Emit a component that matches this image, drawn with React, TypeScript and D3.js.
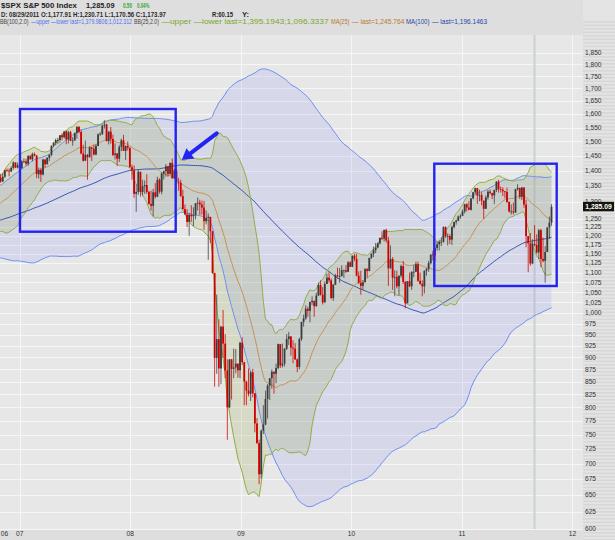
import React from "react";
import * as d3 from "d3";

// ---------- DATA (weekly S&P 500, week labelled by its Monday) ----------
const firstWeekMonday = [2004, 10, 29]; // 2004-11-29
// closes used only to warm up the 100-week indicators (Nov 2004 - Oct 2006)
const warmupCloses = [
  1191, 1189, 1194, 1210, 1212,
  1186, 1184, 1168, 1171, 1203, 1205, 1201, 1211, 1222, 1200, 1190, 1172, 1172,
  1182, 1143, 1152, 1157, 1172, 1154, 1190, 1198, 1197, 1201, 1217, 1191, 1211,
  1212, 1228, 1229, 1234, 1226, 1231, 1220, 1205, 1218, 1241, 1237, 1215, 1229,
  1196, 1187, 1180, 1199, 1220, 1234, 1249, 1268, 1265, 1260, 1267, 1268, 1248,
  1285, 1287, 1261, 1283, 1264, 1266, 1287, 1289, 1287, 1281, 1307, 1302, 1295,
  1295, 1289, 1311, 1311, 1326, 1291, 1267, 1280, 1288, 1253, 1252, 1244, 1270,
  1265, 1236, 1240, 1278, 1280, 1267, 1302, 1295, 1311, 1299, 1321, 1314, 1336,
  1350, 1366, 1369,
];
// plotted weeks: from week of 2006-10-23 to week of 2011-10-24
const close2006 = [1377, 1364, 1380, 1401, 1400, 1397, 1409, 1427, 1410, 1418];
const high2006 = [1382, 1389, 1392, 1403, 1407, 1407, 1415, 1431, 1428, 1427];
const low2006 = [1360, 1360, 1364, 1376, 1396, 1381, 1396, 1403, 1408, 1407];

const close2007 = [
  1409, 1431, 1431, 1423, 1449, 1438, 1456, 1451, 1388, 1402, 1387, 1437, 1421,
  1443, 1453, 1485, 1495, 1505, 1505, 1522, 1515, 1536, 1507, 1533, 1502, 1503,
  1530, 1552, 1534, 1458, 1433, 1453, 1445, 1479, 1474, 1454, 1484, 1525, 1527,
  1557, 1561, 1501, 1535, 1509, 1453, 1458, 1440, 1481, 1504, 1467, 1484, 1478, 1411,
];
const high2007 = [
  1429, 1435, 1441, 1440, 1452, 1453, 1461, 1461, 1452, 1410, 1409, 1439, 1438,
  1445, 1455, 1485, 1498, 1510, 1513, 1522, 1529, 1536, 1540, 1539, 1538, 1515,
  1532, 1556, 1556, 1541, 1488, 1503, 1456, 1482, 1480, 1488, 1489, 1529, 1533,
  1561, 1576, 1564, 1536, 1552, 1524, 1493, 1456, 1488, 1510, 1523, 1485, 1500, 1478,
];
const low2007 = [
  1403, 1405, 1425, 1416, 1416, 1436, 1431, 1447, 1375, 1374, 1363, 1384, 1410,
  1421, 1432, 1448, 1479, 1486, 1490, 1495, 1503, 1510, 1490, 1493, 1501, 1485,
  1503, 1510, 1529, 1455, 1430, 1436, 1370, 1444, 1432, 1451, 1452, 1483, 1520,
  1523, 1546, 1500, 1489, 1492, 1448, 1437, 1416, 1429, 1466, 1467, 1435, 1468, 1410,
];

const close2008 = [
  1401, 1325, 1331, 1396, 1331, 1349, 1353, 1331, 1294, 1288, 1330, 1316, 1370,
  1332, 1390, 1398, 1414, 1389, 1426, 1375, 1400, 1361, 1360, 1318, 1278, 1262,
  1240, 1261, 1257, 1260, 1296, 1298, 1292, 1283, 1242, 1252, 1255, 1213, 1099,
  899, 940, 877, 968, 930, 873, 800, 896, 876, 879, 887, 873, 932,
];
const high2008 = [
  1420, 1417, 1355, 1404, 1396, 1370, 1368, 1388, 1335, 1335, 1341, 1359, 1380,
  1375, 1395, 1399, 1422, 1416, 1426, 1440, 1406, 1404, 1376, 1370, 1338, 1292,
  1278, 1266, 1290, 1284, 1297, 1314, 1307, 1304, 1303, 1274, 1265, 1255, 1214,
  1098, 1044, 985, 970, 1007, 951, 896, 896, 897, 919, 918, 887, 934,
];
const low2008 = [
  1370, 1313, 1270, 1322, 1316, 1320, 1325, 1325, 1292, 1274, 1256, 1310, 1315,
  1326, 1324, 1371, 1380, 1380, 1386, 1373, 1373, 1358, 1335, 1316, 1277, 1262,
  1225, 1200, 1240, 1228, 1247, 1274, 1261, 1262, 1217, 1233, 1134, 1180, 1097,
  840, 866, 840, 845, 899, 857, 741, 799, 815, 857, 867, 858, 857,
];

const close2009 = [
  890, 850, 832, 826, 869, 827, 770, 735, 683, 757, 768, 816, 842,
  857, 870, 866, 878, 929, 883, 887, 919, 940, 946, 921, 919, 896,
  880, 940, 979, 987, 1010, 1005, 1026, 1029, 1016, 1042, 1068, 1044, 1025,
  1071, 1087, 1080, 1036, 1069, 1093, 1091, 1091, 1106, 1106, 1102, 1127, 1115,
];
const high2009 = [
  944, 891, 852, 877, 871, 876, 827, 780, 741, 759, 804, 832, 845,
  857, 875, 871, 887, 930, 922, 930, 920, 951, 956, 945, 937, 931,
  898, 943, 979, 996, 1018, 1015, 1027, 1040, 1028, 1049, 1074, 1080, 1063,
  1077, 1097, 1101, 1085, 1071, 1097, 1113, 1112, 1119, 1108, 1120, 1130, 1130,
];
const low2009 = [
  884, 804, 804, 821, 812, 819, 754, 734, 667, 676, 751, 767, 779,
  814, 836, 826, 847, 875, 878, 879, 881, 916, 927, 904, 888, 895,
  869, 875, 936, 968, 984, 991, 978, 1019, 991, 1015, 1041, 1042, 1020,
  1026, 1072, 1074, 1033, 1029, 1068, 1085, 1074, 1090, 1086, 1099, 1102, 1115,
];

const close2010 = [
  1145, 1136, 1092, 1074, 1066, 1075, 1109, 1104, 1139, 1150, 1160, 1167, 1179,
  1194, 1192, 1217, 1187, 1111, 1136, 1087, 1089, 1065, 1092, 1117, 1076, 1023,
  1078, 1065, 1102, 1102, 1122, 1079, 1071, 1065, 1105, 1110, 1125, 1148, 1146,
  1166, 1176, 1183, 1183, 1225, 1199, 1199, 1189, 1225, 1240, 1244, 1256, 1258,
];
const high2010 = [
  1145, 1150, 1150, 1103, 1105, 1080, 1112, 1112, 1139, 1151, 1170, 1180, 1181,
  1195, 1213, 1217, 1220, 1197, 1173, 1141, 1106, 1105, 1092, 1121, 1131, 1078,
  1078, 1100, 1103, 1120, 1129, 1129, 1100, 1080, 1105, 1111, 1131, 1148, 1158,
  1167, 1184, 1189, 1196, 1227, 1227, 1207, 1205, 1229, 1240, 1247, 1259, 1263,
];
const low2010 = [
  1117, 1130, 1090, 1071, 1044, 1056, 1076, 1087, 1105, 1136, 1141, 1152, 1165,
  1175, 1188, 1184, 1181, 1066, 1131, 1056, 1040, 1060, 1043, 1087, 1071, 1011,
  1028, 1063, 1056, 1088, 1105, 1076, 1069, 1040, 1047, 1092, 1102, 1122, 1132,
  1131, 1159, 1159, 1171, 1181, 1194, 1173, 1177, 1174, 1221, 1232, 1242, 1249,
];

const close2011 = [
  1271, 1293, 1283, 1276, 1311, 1330, 1343, 1320, 1321, 1304, 1279, 1314, 1332,
  1328, 1320, 1337, 1364, 1340, 1338, 1333, 1331, 1300, 1271, 1271, 1268, 1340,
  1344, 1316, 1345, 1292, 1199, 1179, 1124, 1177, 1173.97, 1154, 1216, 1136, 1131,
  1155, 1224, 1238, 1285.09,
];
const high2011 = [
  1277, 1294, 1296, 1302, 1311, 1331, 1344, 1342, 1338, 1330, 1302, 1320, 1337,
  1339, 1328, 1338, 1365, 1370, 1348, 1346, 1334, 1345, 1301, 1292, 1298, 1341,
  1356, 1344, 1347, 1346, 1307, 1199, 1208, 1190, 1230.71, 1204, 1220, 1220, 1195,
  1171, 1224, 1256, 1293,
];
const low2011 = [
  1257, 1265, 1271, 1275, 1274, 1308, 1324, 1294, 1302, 1290, 1249, 1279, 1307,
  1323, 1309, 1294, 1331, 1329, 1329, 1318, 1311, 1297, 1268, 1262, 1262, 1267,
  1335, 1309, 1306, 1282, 1168, 1101, 1118, 1122, 1170.56, 1150, 1136, 1114, 1127,
  1074, 1155, 1191, 1229,
];

const weekClose = [...close2006, ...close2007, ...close2008, ...close2009, ...close2010, ...close2011];
const weekHigh = [...high2006, ...high2007, ...high2008, ...high2009, ...high2010, ...high2011];
const weekLow = [...low2006, ...low2007, ...low2008, ...low2009, ...low2010, ...low2011];

const priceTicks = [
  600, 625, 650, 675, 700, 725, 750, 775, 800, 825, 850, 875, 900, 925, 950, 975,
  1000, 1025, 1050, 1075, 1100, 1125, 1150, 1175, 1200, 1225, 1250,
  1300, 1350, 1400, 1450, 1500, 1550, 1600, 1650, 1700, 1750, 1800, 1850,
];
const yearTicks = [2007, 2008, 2009, 2010, 2011, 2012];
const yearLabels = ["07", "08", "09", "10", "11", "12"];
const cursorDate = [2011, 7, 29];
const lastPriceLabel = "1,285.09";

// header legend pieces: [text, colour, x, width]
const titleParts: [string, string, number, number][] = [
  ["$SPX S&P 500 Index", "#222222", 1, 76],
  ["1,285.09", "#222222", 86, 28.5],
  ["0.50", "#2faa2f", 123, 9],
  ["0.04%", "#2faa2f", 137, 12.5],
];
const quoteParts: [string, string, number, number][] = [
  ["D: 08/29/2011 O:1,177.91 H:1,230.71 L:1,170.56 C:1,173.97", "#2a2a2a", 1, 165],
  ["R:60.15", "#2a2a2a", 212, 21],
  ["Y:", "#2a2a2a", 242, 7],
];
const legendParts: [string, string, number, number][] = [
  ["BB(100,2.0)", "#444444", 0, 28.5],
  ["—upper —lower last=1,379.9806;1,012.312", "#4f6ff0", 31, 101],
  ["BB(25,2.0)", "#444444", 134, 25],
  ["—upper —lower last=1,395.1943;1,096.3337", "#7aa82a", 161.5, 167],
  ["MA(25)", "#b8782e", 331, 18.5],
  ["— last=1,245.764", "#b8782e", 352, 52.5],
  ["MA(100)", "#2446a8", 406, 23.5],
  ["— last=1,196.1463", "#2446a8", 432, 55],
];

// ---------- LAYOUT ----------
const W = 615;
const H = 540;
const PLOT_R = 583;
const PLOT_T = 35;
const PLOT_B = 529;
const FONT_NAME = "Liberation Sans";
const FONT = "'Liberation Sans', Arial, sans-serif";

const C = {
  page: "#dedede",
  plot: "#e7e7e7",
  grid: "#f6f6f6",
  bb100Fill: "rgba(110,130,255,0.14)",
  bb100Line: "#6d8ff2",
  ma100: "#3556b0",
  bb25Fill: "rgba(150,165,70,0.20)",
  bb25Line: "#8fae45",
  ma25: "#c49357",
  up: "#3c3c3c",
  down: "#cf0000",
  box: "#2424f0",
  text: "#333333",
};

function weekDate(i: number) {
  return new Date(firstWeekMonday[0], firstWeekMonday[1], firstWeekMonday[2] + 7 * i);
}

let measureCtx: CanvasRenderingContext2D | null = null;
function measure(text: string, size: number, bold: boolean) {
  if (!measureCtx) measureCtx = document.createElement("canvas").getContext("2d");
  if (!measureCtx) return text.length * size * 0.5;
  measureCtx.font = `${bold ? "bold " : ""}${size}px '${FONT_NAME}'`;
  return measureCtx.measureText(text).width;
}

function HeaderLine(props: { parts: [string, string, number, number][]; y: number; size: number; bold?: boolean }) {
  const bold = !!props.bold;
  return (
    <g fontSize={props.size} fontWeight={bold ? "bold" : "normal"}>
      {props.parts.map(([t, col, px, w], i) => {
        const natural = measure(t, props.size, bold);
        const sx = natural > 0 ? w / natural : 1;
        return (
          <text key={i} transform={`translate(${px},${props.y}) scale(${sx},1)`} fill={col}>
            {t}
          </text>
        );
      })}
    </g>
  );
}

export default function App() {
  const offset = warmupCloses.length;
  const allClose = [...warmupCloses, ...weekClose];

  const x = d3.scaleTime().domain([new Date(2006, 9, 28), new Date(2012, 1, 5)]).range([0, PLOT_R]);
  const y = d3.scaleLog().domain([600, 1929]).range([PLOT_B, PLOT_T]);

  const band = (period: number, k: number) =>
    weekClose.map((_, j) => {
      const i = j + offset;
      const win = allClose.slice(Math.max(0, i - period + 1), i + 1);
      const mid = d3.mean(win) as number;
      const sd = Math.sqrt(d3.mean(win, (v) => (v - mid) * (v - mid)) as number);
      return { date: weekDate(i), mid, up: mid + k * sd, lo: mid - k * sd };
    });
  const bb100 = band(100, 2);
  const bb25 = band(25, 2);

  const area = d3
    .area<any>()
    .x((d) => x(d.date))
    .y0((d) => y(d.lo))
    .y1((d) => y(d.up));
  const line = (key: string) =>
    d3
      .line<any>()
      .x((d) => x(d.date))
      .y((d) => y(d[key]));

  const candles = weekClose.map((c, j) => {
    const o = j === 0 ? warmupCloses[warmupCloses.length - 1] : weekClose[j - 1];
    const h = Math.max(weekHigh[j], o, c);
    const l = Math.min(weekLow[j], o, c);
    return { date: weekDate(j + offset), o, h, l, c };
  });

  const stripes = d3.range(PLOT_T - 14, H, 3.5);
  const cursorX = x(new Date(cursorDate[0], cursorDate[1], cursorDate[2]));

  // arrow geometry
  const tail = [216.7, 133.3];
  const tip = [181.7, 160];
  const dx = tip[0] - tail[0];
  const dy = tip[1] - tail[1];
  const len = Math.hypot(dx, dy);
  const ux = dx / len;
  const uy = dy / len;
  const headL = 11;
  const headW = 6.5;
  const bx = tip[0] - ux * headL;
  const by = tip[1] - uy * headL;
  const headPts = [
    [tip[0], tip[1]],
    [bx - uy * headW, by + ux * headW],
    [bx + uy * headW, by - ux * headW],
  ];

  const lastY = y(weekClose[weekClose.length - 1]);

  return (
    <div style={{ position: "fixed", left: 0, top: 0, width: W, height: H }}>
      <svg width={W} height={H} style={{ display: "block", fontFamily: FONT }}>
        <rect x={0} y={0} width={W} height={H} fill={C.page} />
        {/* right axis striped column */}
        <rect x={PLOT_R} y={0} width={W - PLOT_R} height={H} fill="#e4e4e4" />
        {stripes.map((s, i) => (
          <rect key={i} x={PLOT_R} y={s} width={W - PLOT_R} height={1.6} fill="#d7d7d7" />
        ))}
        {/* plot background */}
        <rect x={0} y={PLOT_T} width={PLOT_R} height={PLOT_B - PLOT_T} fill={C.plot} />
        <defs>
          <clipPath id="plotClip">
            <rect x={0} y={PLOT_T} width={PLOT_R} height={PLOT_B - PLOT_T} />
          </clipPath>
        </defs>

        {/* grid */}
        {priceTicks.map((t) => (
          <line key={t} x1={0} x2={PLOT_R} y1={Math.round(y(t)) + 0.5} y2={Math.round(y(t)) + 0.5} stroke={C.grid} strokeWidth={1} />
        ))}
        {yearTicks.map((yr) => (
          <line key={yr} x1={Math.round(x(new Date(yr, 0, 1))) + 0.5} x2={Math.round(x(new Date(yr, 0, 1))) + 0.5} y1={PLOT_T} y2={PLOT_B} stroke={C.grid} strokeWidth={1} />
        ))}

        <g clipPath="url(#plotClip)">
          {/* cursor */}
          <line x1={cursorX} x2={cursorX} y1={PLOT_T} y2={PLOT_B} stroke="#c9d3cd" strokeWidth={2} />
          {/* bands */}
          <path d={area(bb100) as string} fill={C.bb100Fill} />
          <path d={area(bb25) as string} fill={C.bb25Fill} />
          <path d={line("up")(bb100) as string} fill="none" stroke={C.bb100Line} strokeWidth={1} />
          <path d={line("lo")(bb100) as string} fill="none" stroke={C.bb100Line} strokeWidth={1} />
          <path d={line("mid")(bb100) as string} fill="none" stroke={C.ma100} strokeWidth={1} />
          <path d={line("up")(bb25) as string} fill="none" stroke={C.bb25Line} strokeWidth={1} />
          <path d={line("lo")(bb25) as string} fill="none" stroke={C.bb25Line} strokeWidth={1} />
          <path d={line("mid")(bb25) as string} fill="none" stroke={C.ma25} strokeWidth={1} />
          {/* candles */}
          {candles.map((d, i) => {
            const cx = x(d.date);
            const col = d.c >= d.o ? C.up : C.down;
            const top = y(Math.max(d.o, d.c));
            const bot = y(Math.min(d.o, d.c));
            return (
              <g key={i}>
                <line x1={cx} x2={cx} y1={y(d.h)} y2={y(d.l)} stroke={col} strokeWidth={0.9} opacity={0.85} />
                <rect x={cx - 0.9} y={top} width={1.8} height={Math.max(0.8, bot - top)} fill={col} />
              </g>
            );
          })}
        </g>

        {/* highlight boxes */}
        <rect x={20} y={109} width={155.7} height={122.7} fill="none" stroke={C.box} strokeWidth={2.4} />
        <rect x={434.3} y={163.7} width={122.4} height={122.3} fill="none" stroke={C.box} strokeWidth={2.4} />
        {/* arrow */}
        <line x1={tail[0]} y1={tail[1]} x2={bx} y2={by} stroke={C.box} strokeWidth={4} strokeLinecap="round" />
        <polygon points={headPts.map((p) => p.join(",")).join(" ")} fill={C.box} />

        {/* right axis labels */}
        {priceTicks.map((t) => (
          <text key={t} x={585} y={y(t)} dy="0.35em" fontSize={6.6} fill={C.text}>
            {d3.format(",")(t)}
          </text>
        ))}
        <rect x={583} y={lastY - 5} width={31} height={9.5} fill="#15150c" />
        <text x={598.5} y={lastY} dy="0.35em" fontSize={6.8} fontWeight="bold" fill="#ffffff" textAnchor="middle">
          {lastPriceLabel}
        </text>

        {/* x axis labels */}
        <text x={4.5} y={536} fontSize={6.6} fill={C.text} textAnchor="middle">06</text>
        {yearTicks.map((yr, i) => (
          <text key={yr} x={x(new Date(yr, 0, 1))} y={536} fontSize={6.6} fill={C.text} textAnchor="middle">
            {yearLabels[i]}
          </text>
        ))}

        {/* header */}
        <HeaderLine parts={titleParts} y={8} size={7.4} bold />
        <HeaderLine parts={quoteParts} y={16.5} size={6.4} bold />
        <HeaderLine parts={legendParts} y={23.6} size={6.4} />
      </svg>
    </div>
  );
}
